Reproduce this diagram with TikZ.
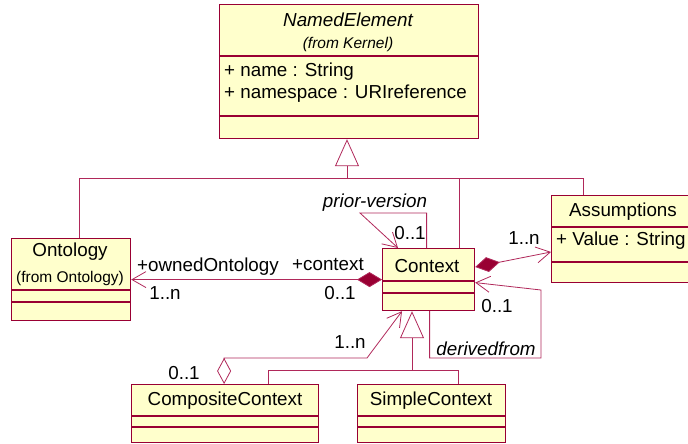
\documentclass[tikz,border=0pt]{standalone}
\usepackage{fontspec}
\setmainfont{Liberation Sans}
\usetikzlibrary{positioning, calc, arrows.meta}

\definecolor{umlred}{RGB}{153,0,51}
\definecolor{umlline}{RGB}{176,40,90}
\definecolor{umlfill}{RGB}{255,255,204}

\tikzset{
  classbox/.style={draw=umlred, fill=umlfill, line width=1.2pt, anchor=north west, inner sep=0pt},
  divider/.style={draw=umlred, line width=1.2pt},
  conn/.style={draw=umlline, line width=0.8pt},
  lbl/.style={font=\fontsize{18.8}{21}\selectfont, inner sep=0pt},
  ilbl/.style={font=\fontsize{18.8}{21}\selectfont\itshape, inner sep=0pt},
  smalllbl/.style={font=\fontsize{15.5}{17}\selectfont, inner sep=0pt},
  barb/.style={-{Straight Barb[length=14pt, width=16pt]}},
  gentip/.style={-{Triangle[open, length=27pt, width=24pt, fill=white]}},
  solidd/.style={{Diamond[length=25pt, width=15pt, fill=umlred]}-{Straight Barb[length=14pt, width=16pt]}},
  hollowd/.style={{Diamond[open, length=26pt, width=14pt, fill=white]}-{Straight Barb[length=14pt, width=16pt]}}
}

\begin{document}
\begin{tikzpicture}[x=1pt, y=-1pt]
  \useasboundingbox (0,0) rectangle (688,444);
  \clip (0,0) rectangle (688,444);

  % classes
  \node[classbox, minimum width=259pt, minimum height=134pt] (named) at (219,4) {};
  \node[classbox, minimum width=119pt, minimum height=82pt] (ont) at (11,238) {};
  \node[classbox, minimum width=92pt, minimum height=62pt] (ctx) at (382,248) {};
  \node[classbox, minimum width=144pt, minimum height=87pt] (asm) at (551,195) {};
  \node[classbox, minimum width=187pt, minimum height=58pt] (comp) at (131,384) {};
  \node[classbox, minimum width=148pt, minimum height=58pt] (simple) at (357,384) {};

  \foreach \n/\d in {named/52, named/112, ont/52, ont/64, ctx/33, ctx/45,
                     asm/32, asm/67, comp/32, comp/43, simple/32, simple/43}
    \draw[divider] ($(\n.north west)+(0,\d)$) -- ($(\n.north east)+(0,\d)$);

  % class texts
  \node[ilbl] (namedname) at (348,20) {NamedElement};
  \node[smalllbl, font=\fontsize{15.5}{17}\selectfont\itshape] (namedfrom) at (348,44) {(from Kernel)};
  \node[lbl, anchor=west] (attrname) at (224,72) {+ name : String};
  \node[lbl, anchor=west] (attrns) at (224,94) {+ namespace : URIreference};
  \node[lbl] (ontname) at (70,252) {Ontology};
  \node[smalllbl] (ontfrom) at (70,278) {(from Ontology)};
  \node[lbl] (ctxname) at (427,266) {Context};
  \node[lbl] (asmname) at (623,212) {Assumptions};
  \node[lbl, anchor=west] (attrvalue) at (556,241) {+ Value : String};
  \node[lbl] (compname) at (225,401) {CompositeContext};
  \node[lbl] (simplename) at (431,401) {SimpleContext};

  % generalization to NamedElement
  \coordinate (genjoin) at (347,178);
  \draw[conn, gentip] (genjoin) -- (named.south -| genjoin);
  \draw[conn] ($(ont.north)+(8,0)$) |- (genjoin);
  \draw[conn] (genjoin) -| (asm.north -| 583,0);
  \draw[conn] ($(ctx.north east)+(-16,0)$) -- ++(0,-70);

  % generalization to Context
  \coordinate (subjoin) at (412,370);
  \draw[conn, gentip] (subjoin) -- ($(ctx.south west)+(30,0)$);
  \draw[conn] ($(comp.north)+(43,0)$) |- (subjoin);
  \draw[conn] (subjoin) -| ($(simple.north)+(27,0)$);

  % associations
  \draw[conn, solidd] (ctx.west) -- (ont.east);
  \draw[conn, solidd] ($(ctx.north east)+(0,19)$) -- ($(asm.north west)+(0,57)$);
  \draw[conn, barb] ($(ctx.north)+(-2,0)$) |- (360,213) -- ($(ctx.north west)+(16,0)$);
  \draw[conn, barb] ($(ctx.south)+(1,0)$) |- (541,358) -- (541,290) -- ($(ctx.east)+(0,3)$);
  \draw[conn, hollowd] ($(comp.north)+(-1,0)$) -- ++(0,-26) -- (367,358) -- ($(ctx.south west)+(20,0)$);

  % association labels
  \node[lbl] (ownedlbl) at (208,267) {+ownedOntology};
  \node[lbl] (contextlbl) at (328,265) {+context};
  \node[lbl] (ontmult) at (165,293) {1..n};
  \node[lbl] (ctxmult) at (340,293) {0..1};
  \node[ilbl] (priorlbl) at (375,203) {prior-version};
  \node[lbl] (priormult) at (410,233) {0..1};
  \node[lbl] (asmmult) at (524,238) {1..n};
  \node[lbl] (derivmult) at (497,306) {0..1};
  \node[ilbl] (derivlbl) at (486,349) {derivedfrom};
  \node[lbl] (compmult) at (350,342) {1..n};
  \node[lbl] (aggmult) at (184,373) {0..1};
\end{tikzpicture}
\end{document}
